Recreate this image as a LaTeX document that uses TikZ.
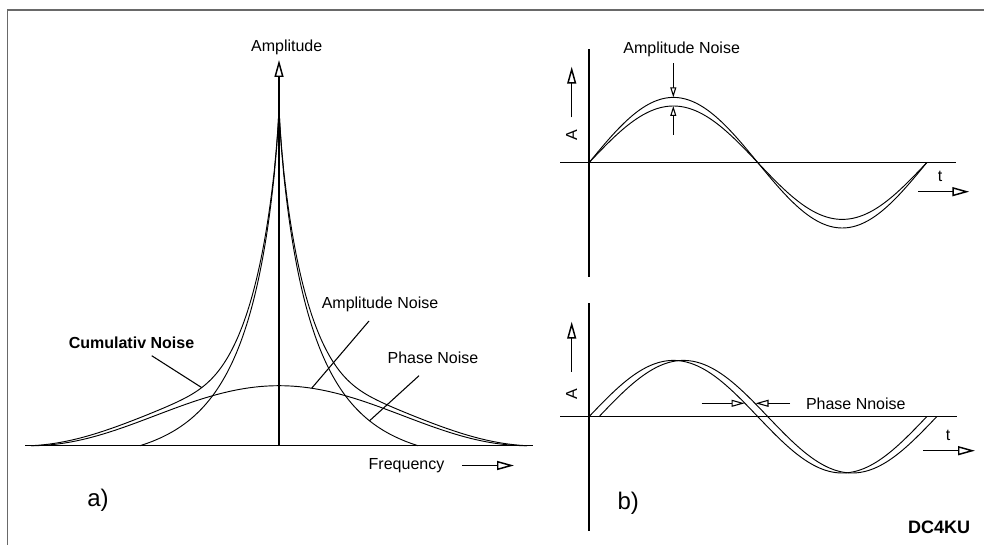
\documentclass[tikz,border=0pt]{standalone}
\usepackage{fontspec}
\setmainfont{Liberation Sans}
\usetikzlibrary{arrows.meta}
\definecolor{framegray}{RGB}{105,105,105}
\begin{document}
\begin{tikzpicture}[x=0.75pt,y=-0.75pt,
  declare function={
    nn(\w)=340*(exp(-((\w/35)^0.78))-0.0533)/0.9467;
    ne(\w)=340*exp(-((\w/35)^0.78))*(1-(\w/248)*(\w/248));
    bb(\w)=30*(1+cos((\w/248)*180));
    bc(\w)=max(30*(1+cos((\w/248)*180))+3.5*sin((\w/248)*180),0);
    cm(\w)=max(ne(\w),bc(\w),0.01);
    cr(\w)=min(ne(\w),bc(\w))/cm(\w);
    cq(\w)=cr(\w)*cr(\w);
    cc(\w)=cm(\w)*((1+cq(\w)*cq(\w))^0.25);
  },
  frame/.style={draw=framegray, line width=1.3pt},
  axis/.style={line width=1.1pt},
  curve/.style={line width=0.7pt, line join=round},
  leader/.style={line width=0.8pt},
  bigtip/.style={-{Triangle[length=12.75pt,width=6.75pt,fill=white]}},
  midtip/.style={-{Triangle[length=9.75pt,width=5.25pt,fill=white]}},
  smalltip/.style={-{Triangle[length=7.5pt,width=4.5pt,fill=white]}},
  lbl/.style={inner sep=0pt, font=\fontsize{12}{14}\selectfont},
  blbl/.style={inner sep=0pt, font=\fontsize{12}{14}\selectfont\bfseries},
  panel/.style={inner sep=0pt, font=\fontsize{18}{20}\selectfont},
]
\useasboundingbox (0,0) rectangle (984,545);
% frame
\draw[frame] (984,10) -- (7.5,10) -- (7.5,545);

% ---------- left panel ----------
\coordinate (O) at (279,445.7);
\coordinate (bl) at (25,445.7);
\coordinate (br) at (533,445.7);
\coordinate (ytop) at (279,60);

% broad (amplitude noise)
\draw[curve] plot[domain=-248:248,samples=160] ({279+\x},{445.7-bb(\x)});
% narrow (phase noise)
\draw[curve] plot[domain=11.7898:0.25,samples=110] ({279-\x*\x},{445.7-nn(\x*\x)})
  -- plot[domain=0.25:11.7898,samples=110] ({279+\x*\x},{445.7-nn(\x*\x)});
% cumulative
\draw[curve] plot[domain=15.748:0.25,samples=140] ({279-\x*\x},{445.7-cc(\x*\x)})
  -- plot[domain=0.25:15.748,samples=140] ({279+\x*\x},{445.7-cc(\x*\x)});

\draw[axis] (bl) -- (br);
\draw[axis,bigtip] (O) -- (ytop);
\node[lbl] (amp) at (286.7,47) {Amplitude};

\node[blbl] (cumlbl) at (131.5,342.5) {Cumulativ Noise};
\coordinate (cum1) at (151.7,355.7);
\coordinate (cum2) at (201.7,387.6);
\draw[leader] (cum1) -- (cum2);

\node[lbl] (anlbl) at (380,304) {Amplitude Noise};
\coordinate (an1) at (369,321);
\coordinate (an2) at (311.7,388.2);
\draw[leader] (an1) -- (an2);

\node[lbl] (pnlbl) at (433,358) {Phase Noise};
\coordinate (pn1) at (419,375.7);
\coordinate (pn2) at (369.3,421);
\draw[leader] (pn1) -- (pn2);

\node[lbl] (freq) at (406.5,466) {Frequency};
\coordinate (f1) at (462,465.5);
\coordinate (f2) at (514,465.5);
\draw[axis,bigtip] (f1) -- (f2);

\node[panel] (pa) at (98,500) {a)};

% ---------- right top panel ----------
\coordinate (tv1) at (589,49.3);
\coordinate (tv2) at (589,276.7);
\coordinate (th1) at (560,162.7);
\coordinate (th2) at (956,162.7);
\draw[curve] plot[domain=0:360,samples=120] ({589+337.7*(\x/360)},{162.7-65.3*sin(\x)});
\draw[curve] plot[domain=0:360,samples=120] ({589+337.7*(\x/360)},{162.7-56.7*sin(\x)});
\draw[axis] (tv1) -- (tv2);
\draw[axis] (th1) -- (th2);

\node[lbl] (tan) at (681.7,49) {Amplitude Noise};
\coordinate (ta1) at (673.3,63.3);
\coordinate (ta2) at (673.3,97.3);
\coordinate (ta3) at (673.3,135);
\coordinate (ta4) at (673.3,106);
\draw[leader,smalltip] (ta1) -- (ta2);
\draw[leader,smalltip] (ta3) -- (ta4);

\node[lbl,rotate=90] (tA) at (571.7,135) {A};
\coordinate (tA1) at (571.7,117.3);
\coordinate (tA2) at (571.7,66.7);
\draw[axis,bigtip] (tA1) -- (tA2);

\node[lbl] (tt) at (940,176.7) {t};
\coordinate (tt1) at (918.3,191.7);
\coordinate (tt2) at (969.3,191.7);
\draw[axis,bigtip] (tt1) -- (tt2);

% ---------- right bottom panel ----------
\coordinate (bv1) at (589,303.3);
\coordinate (bv2) at (589,530.7);
\coordinate (bh1) at (560,416.7);
\coordinate (bh2) at (956.7,416.7);
\draw[curve] plot[domain=0:360,samples=120] ({589+337.7*(\x/360)},{416.7-56.3*sin(\x)});
\draw[curve] plot[domain=0:360,samples=120] ({599+337.7*(\x/360)},{416.7-56.3*sin(\x)});
\draw[axis] (bv1) -- (bv2);
\draw[axis] (bh1) -- (bh2);

\node[lbl] (bpn) at (855.8,403.3) {Phase Nnoise};
\coordinate (bp1) at (701.7,403.3);
\coordinate (bp2) at (744.5,403.3);
\coordinate (bp3) at (790,403.3);
\coordinate (bp4) at (755.5,403.3);
\draw[leader,midtip] (bp1) -- (bp2);
\draw[leader,midtip] (bp3) -- (bp4);

\node[lbl,rotate=90] (bA) at (571.7,394) {A};
\coordinate (bA1) at (571.7,371.7);
\coordinate (bA2) at (571.7,321.7);
\draw[axis,bigtip] (bA1) -- (bA2);

\node[lbl] (bt) at (948,435) {t};
\coordinate (bt1) at (923.3,450.7);
\coordinate (bt2) at (975,450.7);
\draw[axis,bigtip] (bt1) -- (bt2);

\node[panel] (pb) at (628.3,503) {b)};
\node[inner sep=0pt, font=\fontsize{13.5}{15}\selectfont\bfseries] (dc) at (939,527) {DC4KU};
\end{tikzpicture}
\end{document}
